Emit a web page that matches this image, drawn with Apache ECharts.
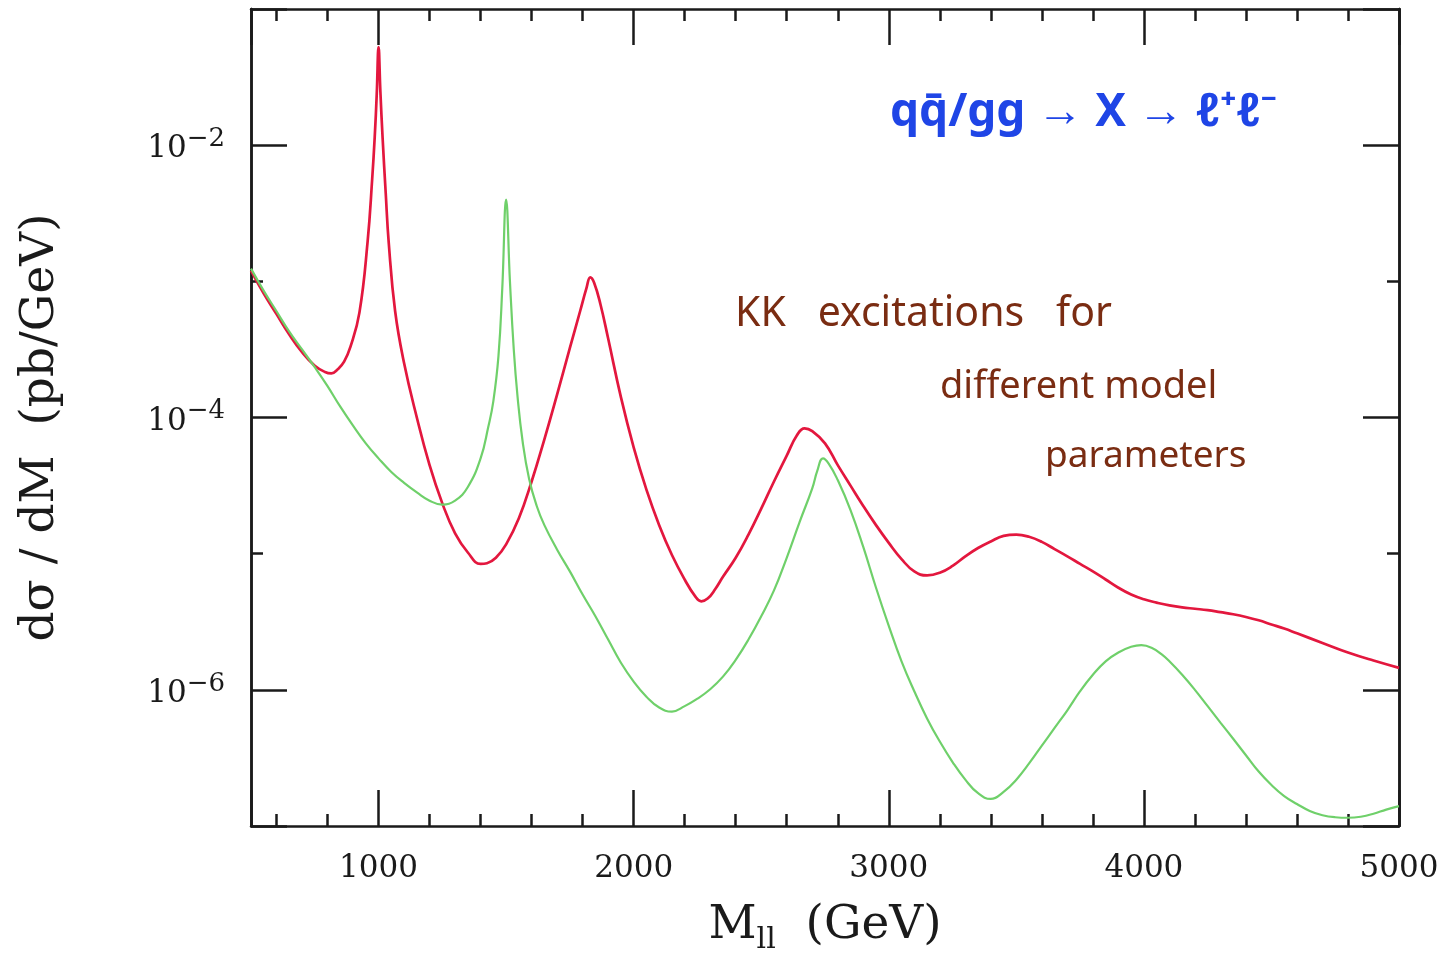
<!DOCTYPE html>
<html>
<head>
<meta charset="utf-8">
<script src="https://cdn.jsdelivr.net/npm/echarts@6/dist/echarts.min.js"></script>
<style>
  html, body { margin: 0; padding: 0; background: #ffffff; }
  #chart { width: 1455px; height: 960px; }
</style>
</head>
<body>
<div id="chart"></div>
<script>
// Dilepton invariant-mass spectrum for two KK-resonance parameter sets, dσ/dM in pb/GeV
const massRed = [500, 550, 600, 650, 700, 750, 790, 815, 840, 865, 890, 925, 957, 975, 985, 993, 1000, 1007, 1016,
  1028, 1040, 1065, 1100, 1150, 1200, 1250, 1300, 1350, 1400, 1425, 1460, 1500, 1550, 1600, 1650, 1700, 1750,
  1790, 1815, 1830, 1845, 1870, 1900, 1950, 2000, 2050, 2100, 2150, 2200, 2240, 2265, 2290, 2320, 2350, 2400,
  2450, 2500, 2550, 2600, 2640, 2670, 2700, 2750,
  2800, 2850, 2900, 2950, 3000, 3050, 3100, 3150, 3200, 3250, 3300, 3350, 3400, 3450, 3500, 3550, 3600, 3650,
  3700, 3750, 3800, 3850, 3900, 3950, 4000, 4050, 4100, 4150, 4200, 4250, 4300, 4350, 4400, 4450, 4500, 4550,
  4600, 4700, 4800, 4900, 5000];
const sigmaRed = [1.20e-3, 8.13e-4, 5.75e-4, 4.07e-4, 3.02e-4, 2.40e-4, 2.16e-4, 2.11e-4, 2.26e-4, 2.57e-4, 3.31e-4,
  5.89e-4, 1.95e-3, 5.62e-3, 1.15e-2, 2.40e-2, 5.25e-2, 2.51e-2, 1.12e-2, 4.47e-3, 1.91e-3,
  6.03e-4, 2.51e-4, 1.00e-4, 4.47e-5, 2.34e-5, 1.41e-5, 1.02e-5, 8.41e-6, 8.51e-6, 9.33e-6,
  1.17e-5, 1.82e-5, 3.39e-5, 6.92e-5, 1.48e-4, 3.24e-4, 6.03e-4, 8.91e-4, 1.07e-3, 9.77e-4,
  6.76e-4, 3.80e-4, 1.41e-4, 6.03e-5, 2.95e-5, 1.62e-5, 9.77e-6, 6.46e-6, 4.90e-6, 4.47e-6,
  4.68e-6, 5.50e-6, 6.76e-6, 9.33e-6, 1.38e-5, 2.14e-5, 3.39e-5, 5.25e-5, 7.41e-5, 8.32e-5,
  7.94e-5, 6.46e-5,
  4.47e-5, 3.16e-5, 2.24e-5, 1.62e-5, 1.20e-5, 9.12e-6, 7.41e-6, 6.92e-6, 7.24e-6, 8.13e-6,
  9.55e-6, 1.10e-5, 1.23e-5, 1.35e-5, 1.38e-5, 1.33e-5, 1.22e-5, 1.08e-5, 9.55e-6, 8.41e-6,
  7.41e-6, 6.46e-6, 5.62e-6, 5.01e-6, 4.62e-6, 4.37e-6, 4.17e-6, 4.03e-6, 3.94e-6, 3.85e-6,
  3.72e-6, 3.59e-6, 3.43e-6, 3.24e-6, 3.02e-6, 2.82e-6, 2.60e-6, 2.21e-6, 1.88e-6, 1.64e-6, 1.45e-6];

const massGreen = [500, 550, 600, 650, 700, 750, 800, 850, 900, 950, 1000, 1050, 1100, 1150, 1200, 1250, 1300,
  1350, 1400, 1430, 1450, 1470, 1485, 1500, 1515, 1530, 1545, 1565, 1590, 1620, 1650,
  1700, 1750, 1800, 1850, 1900, 1950, 2000, 2050, 2100, 2150, 2200, 2250, 2300, 2350, 2400, 2450, 2500, 2550,
  2600, 2650, 2700, 2720, 2742, 2765, 2800, 2850, 2900,
  2950, 3000, 3050, 3100, 3150, 3200, 3250, 3300, 3350, 3400, 3450, 3500, 3550, 3600, 3650, 3700, 3750, 3800,
  3850, 3900, 3950, 3990, 4030, 4070, 4100,
  4150, 4200, 4250, 4300, 4350, 4400, 4450, 4500, 4550, 4600, 4650, 4700, 4750, 4800, 4850, 4900, 4950, 5000];
const sigmaGreen = [1.24e-3, 8.51e-4, 6.03e-4, 4.27e-4, 3.16e-4, 2.34e-4, 1.70e-4, 1.20e-4, 8.71e-5, 6.46e-5,
  5.01e-5, 3.98e-5, 3.31e-5, 2.82e-5, 2.45e-5, 2.29e-5, 2.45e-5, 3.09e-5, 5.01e-5,
  8.51e-5, 1.32e-4, 2.82e-4, 8.91e-4, 3.98e-3, 1.00e-3, 3.16e-4, 1.41e-4, 6.61e-5, 3.55e-5, 2.24e-5, 1.62e-5,
  1.07e-5, 7.41e-6, 5.01e-6, 3.47e-6, 2.34e-6, 1.58e-6, 1.15e-6, 8.91e-7, 7.41e-7, 6.92e-7, 7.59e-7, 8.61e-7,
  1.01e-6, 1.25e-6, 1.66e-6, 2.34e-6, 3.47e-6, 5.37e-6, 9.33e-6, 1.70e-5,
  3.02e-5, 4.07e-5, 5.01e-5, 4.57e-5, 3.47e-5, 2.09e-5, 1.12e-5,
  5.62e-6, 2.95e-6, 1.62e-6, 9.77e-7, 6.17e-7, 4.17e-7, 2.95e-7, 2.19e-7, 1.74e-7, 1.58e-7, 1.78e-7, 2.19e-7,
  2.88e-7, 3.89e-7, 5.25e-7, 7.08e-7, 9.77e-7, 1.29e-6,
  1.62e-6, 1.88e-6, 2.07e-6, 2.13e-6, 2.04e-6, 1.82e-6, 1.62e-6,
  1.29e-6, 1.00e-6, 7.59e-7, 5.75e-7, 4.37e-7, 3.31e-7, 2.51e-7, 2.00e-7, 1.66e-7, 1.45e-7, 1.29e-7, 1.20e-7,
  1.16e-7, 1.15e-7, 1.17e-7, 1.23e-7, 1.32e-7, 1.40e-7];

// decades that carry a "10^n" label on the y axis
const labelledDecades = [-6, -4, -2];

const ink = '#1a1a1a';
const serif = '"DejaVu Serif", "Liberation Serif", serif';
const hand = '"Noto Sans", "Open Sans", sans-serif';

const chart = echarts.init(document.getElementById('chart'), null, { renderer: 'canvas' });

const frameLine = { show: true, onZero: false, lineStyle: { color: ink, width: 2.5 } };

function xAxisDef(position, withLabels) {
  return {
    type: 'value', position, min: 500, max: 5000, splitNumber: 5,
    axisLine: frameLine,
    splitLine: { show: false },
    axisTick: { show: true, inside: true, length: 36, lineStyle: { color: ink, width: 2.5 } },
    minorTick: { show: true, splitNumber: 5, length: 12, lineStyle: { color: ink, width: 2.5 } },
    axisLabel: {
      show: withLabels, margin: 27, color: ink, fontFamily: serif, fontSize: 31,
      showMinLabel: false,
      formatter: v => String(v)
    },
    name: withLabels ? '{m|M}{sub|ll}{m|  (GeV)}' : '',
    nameLocation: 'middle', nameGap: 71,
    nameTextStyle: {
      color: ink, fontFamily: serif,
      rich: {
        m: { fontFamily: serif, fontSize: 47, color: ink, lineHeight: 58 },
        sub: { fontFamily: serif, fontSize: 30, color: ink, verticalAlign: 'bottom' }
      }
    }
  };
}

function yAxisDef(position, base, tickLen, withLabels) {
  return {
    type: 'log', logBase: base, position, min: 1e-7, max: 1e-1,
    axisLine: frameLine,
    splitLine: { show: false },
    axisTick: { show: true, inside: true, length: tickLen, lineStyle: { color: ink, width: 2.5 } },
    axisLabel: {
      show: withLabels, margin: 26, color: ink, padding: [8, 0, 0, 0],
      formatter: v => {
        const e = Math.round(Math.log10(v));
        return labelledDecades.includes(e) ? '{b|10}{s|\u2212' + (-e) + '}' : '';
      },
      rich: {
        b: { fontFamily: serif, fontSize: 31, color: ink, lineHeight: 46 },
        s: { fontFamily: serif, fontSize: 26, color: ink, verticalAlign: 'top' }
      }
    },
    name: withLabels ? 'd\u03c3 / dM  (pb/GeV)' : '',
    nameLocation: 'middle', nameGap: 187,
    nameTextStyle: { color: ink, fontFamily: serif, fontSize: 47, padding: [0, 20, 0, 0] }
  };
}

chart.setOption({
  animation: false,
  backgroundColor: '#ffffff',
  grid: { left: 251, right: 56, top: 9, bottom: 124, containLabel: false },
  xAxis: [xAxisDef('bottom', true), xAxisDef('top', false)],
  yAxis: [
    yAxisDef('left', 10, 12, false),
    yAxisDef('left', 100, 36, true),
    yAxisDef('right', 10, 12, false),
    yAxisDef('right', 100, 36, false)
  ],
  series: [
    {
      type: 'line', xAxisIndex: 0, yAxisIndex: 0,
      data: massRed.map((m, i) => [m, sigmaRed[i]]),
      showSymbol: false, smooth: 0.45, clip: true,
      lineStyle: { color: '#e3173e', width: 2.7 }
    },
    {
      type: 'line', xAxisIndex: 0, yAxisIndex: 0,
      data: massGreen.map((m, i) => [m, sigmaGreen[i]]),
      showSymbol: false, smooth: 0.45, clip: true,
      lineStyle: { color: '#6fd06a', width: 2.2 }
    }
  ],
  graphic: [
    {
      type: 'text', left: 890, top: 90, silent: true,
      style: {
        text: 'qq\u0304/gg \u2192 X \u2192 \u2113\u207a\u2113\u207b',
        font: 'bold 46px ' + hand, fill: '#1f45e6'
      }
    },
    {
      type: 'text', left: 735, top: 294, silent: true,
      style: { text: 'KK   excitations   for', font: '41px ' + hand, fill: '#7a2c12' }
    },
    {
      type: 'text', left: 940, top: 368, silent: true,
      style: { text: 'different model', font: '38px ' + hand, fill: '#7a2c12' }
    },
    {
      type: 'text', left: 1045, top: 438, silent: true,
      style: { text: 'parameters', font: '37px ' + hand, fill: '#7a2c12' }
    }
  ]
});
</script>
</body>
</html>
